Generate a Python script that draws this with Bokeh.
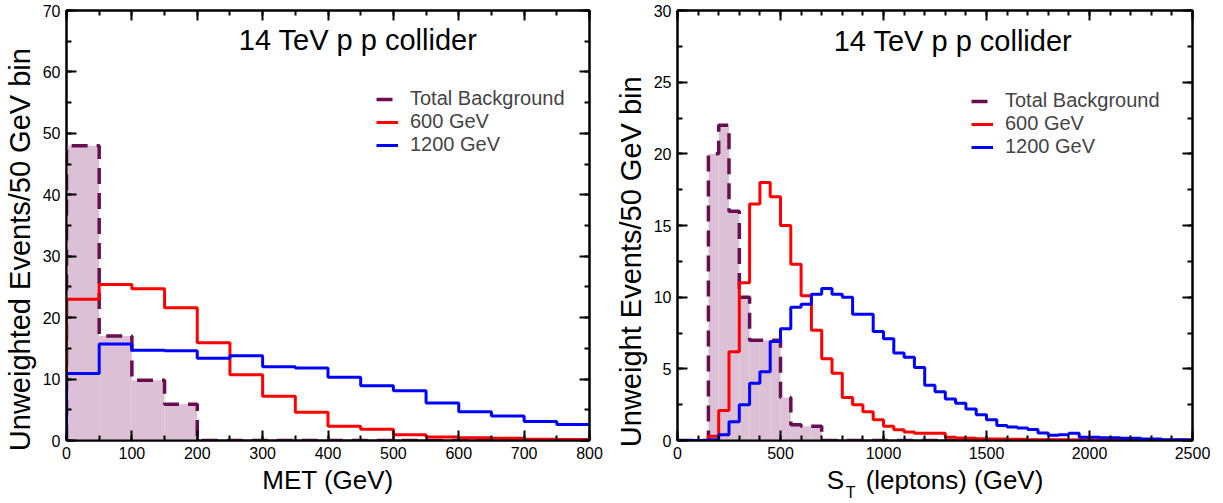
from bokeh.plotting import figure
from bokeh.models import (LinearAxis, SingleIntervalTicker, FixedTicker, Range1d, Legend,
                          LegendItem, Label, CustomJSTickFormatter)
from bokeh.layouts import row
from bokeh.embed import file_html
from bokeh.resources import INLINE

# ---------------- data ----------------
met_edges = list(range(0, 850, 50))
bkg_met = [48, 17, 9.8, 5.9, 0, 0, 0, 0, 0, 0, 0, 0, 0, 0, 0, 0]
sig600_met = [23, 25.4, 24.7, 21.6, 15.9, 10.7, 7.2, 4.6, 2.3, 1.85, 0.95, 0.55,
              0.45, 0.35, 0.2, 0.15]
sig1200_met = [10.9, 15.7, 14.7, 14.6, 13.4, 13.8, 12.0, 11.8, 10.3, 8.9, 8.1, 6.1,
               4.7, 4.0, 3.1, 2.6]

st_edges = list(range(0, 2550, 50))
bkg_st = [0, 0, 0, 20, 22, 16, 10, 7, 7, 7, 3, 1.1, 1, 1] + [0] * 36
sig600_st = [0, 0, 0,
             0.3, 2.1, 6.2, 11, 16.5, 18, 17, 15, 12.3, 10.1,
             7.7, 5.7, 4.7, 3.0, 2.5, 2.0, 1.45, 1.0, 0.75, 0.6,
             0.5, 0.5, 0.5, 0.22, 0.18, 0.15, 0.12, 0.1, 0.1, 0.08,
             0.08, 0.06, 0.05, 0.05, 0.05, 0.04, 0.04, 0.03, 0.03, 0.02,
             0.02, 0.02, 0.02, 0.01, 0.01, 0.01, 0.01]
sig1200_st = [0, 0, 0,
              0.05, 0.4, 1.3, 2.5, 4.0, 4.8, 6.9, 7.8, 9.3, 9.5,
              10.2, 10.6, 10.2, 10.0, 8.8, 8.8, 7.6, 7.1, 6.1, 5.8,
              5.1, 3.85, 3.4, 2.9, 2.6, 2.2, 1.8, 1.45, 1.05, 0.95,
              0.88, 0.77, 0.53, 0.37, 0.4, 0.5, 0.23, 0.22, 0.2, 0.2,
              0.15, 0.15, 0.1, 0.1, 0.05, 0.05, 0.05]

series_labels = ["Total Background", "600 GeV", "1200 GeV"]
title_text = "14 TeV p p collider"
ylabel_left = "Unweighted Events/50 GeV bin"
ylabel_right = "Unweight Events/50 GeV bin"
xlabel_left = "MET (GeV)"
xlabel_right_main = "S"
xlabel_right_sub = "T"
xlabel_right_rest = "(leptons) (GeV)"

# ---------------- style ----------------
FONT = "Liberation Sans"
BKG_LINE = "#680e52"
BKG_FILL = "#dcc0d6"
RED = "#ff0000"
BLUE = "#0000ff"
NBSP = "\u00a0"


def step_xy(edges, vals):
    xs = [edges[0]]
    ys = [0]
    for i, v in enumerate(vals):
        xs += [edges[i], edges[i + 1]]
        ys += [v, v]
    return xs, ys


def hide_labels(ax):
    ax.formatter = CustomJSTickFormatter(code="return ''")
    ax.major_label_text_font_size = "1px"
    ax.major_label_standoff = 0


def style_axis(ax, ticker, show_labels=True):
    ax.ticker = ticker
    ax.axis_line_width = 2
    ax.axis_line_color = "black"
    ax.major_tick_in = 10
    ax.major_tick_out = 0
    ax.minor_tick_in = 5
    ax.minor_tick_out = 0
    ax.major_tick_line_width = 2
    ax.minor_tick_line_width = 2
    ax.major_label_text_font = FONT
    ax.major_label_text_font_size = "16px"
    ax.major_label_text_color = "black"
    ax.major_label_standoff = 6
    ax.axis_label_text_font = FONT
    ax.axis_label_text_font_style = "normal"
    ax.axis_label_text_color = "black"
    if not show_labels:
        hide_labels(ax)


def make_panel(width, height, borders, edges, bkg, s600, s1200, x_end, y_end,
               xmaj, xminor, ymaj, yminor, xlabel, ylabel, y_pad, legend_loc, title_xy):
    bl, br, bt, bb = borders
    p = figure(width=width, height=height, output_backend="svg", toolbar_location=None,
               x_range=Range1d(0, x_end), y_range=Range1d(0, y_end),
               min_border_left=bl, min_border_right=br, min_border_top=bt,
               min_border_bottom=bb)
    p.xgrid.visible = False
    p.ygrid.visible = False
    p.outline_line_color = "black"
    p.outline_line_width = 2
    p.background_fill_color = "white"
    p.border_fill_color = "white"

    style_axis(p.xaxis[0], SingleIntervalTicker(interval=xmaj, num_minor_ticks=xminor))
    style_axis(p.yaxis[0], SingleIntervalTicker(interval=ymaj, num_minor_ticks=yminor))
    p.xaxis[0].axis_label = xlabel
    p.xaxis[0].axis_label_text_font_size = "26px"
    p.xaxis[0].axis_label_standoff = 3
    # trailing no-break spaces move the rotated title towards the bottom
    p.yaxis[0].axis_label = ylabel + NBSP * y_pad
    p.yaxis[0].axis_label_text_font_size = "29px"
    p.yaxis[0].axis_label_standoff = 4

    top = LinearAxis()
    style_axis(top, SingleIntervalTicker(interval=xmaj, num_minor_ticks=xminor), False)
    p.add_layout(top, "above")
    right = LinearAxis()
    style_axis(right, SingleIntervalTicker(interval=ymaj, num_minor_ticks=yminor), False)
    p.add_layout(right, "right")

    # background filled histogram
    p.quad(left=edges[:-1], right=edges[1:], bottom=0, top=bkg,
           fill_color=BKG_FILL, line_color=None)
    bx, by = step_xy(edges, bkg)
    r_bkg = p.line(bx, by, line_color=BKG_LINE, line_width=3.5, line_dash="16 9")
    rx, ry = step_xy(edges, s600)
    r_600 = p.line(rx, ry, line_color=RED, line_width=3)
    ux, uy = step_xy(edges, s1200)
    r_1200 = p.line(ux, uy, line_color=BLUE, line_width=3)

    legend = Legend(items=[LegendItem(label=lab, renderers=[rend]) for lab, rend in
                           zip(series_labels, [r_bkg, r_600, r_1200])],
                    location=legend_loc, orientation="vertical")
    legend.label_text_font = FONT
    legend.label_text_font_size = "20px"
    legend.label_height = 20
    legend.glyph_height = 20
    legend.glyph_width = 22
    legend.label_standoff = 12
    legend.spacing = 0
    legend.padding = 0
    legend.margin = 0
    legend.border_line_color = None
    legend.background_fill_alpha = 0
    p.add_layout(legend, "center")

    p.add_layout(Label(x=title_xy[0], y=title_xy[1], text=title_text,
                       text_font=FONT, text_font_size="29px", text_color="black",
                       text_align="center", text_baseline="alphabetic"))
    return p


p1 = make_panel(611, 503, (62, 22, 10, 60), met_edges, bkg_met, sig600_met, sig1200_met,
                800, 70, 100, 2, 10, 2, xlabel_left, ylabel_left, 6,
                (310, 284), (446, 65.2))

p2 = make_panel(612, 503, (63, 31, 10, 62), st_edges, bkg_st, sig600_st, sig1200_st,
                2500, 30, 500, 5, 5, 2,
                xlabel_right_main + NBSP * 3 + xlabel_right_rest, ylabel_right, 9,
                (294, 282), (1337, 27.9))

# subscript "T" of S_T: an extra, tick-less axis below, whose title sits under the "S"
sub_axis = LinearAxis(ticker=FixedTicker(ticks=[], minor_ticks=[]))
sub_axis.axis_line_color = None
sub_axis.major_tick_in = 0
sub_axis.major_tick_out = 0
sub_axis.minor_tick_in = 0
sub_axis.minor_tick_out = 0
hide_labels(sub_axis)
sub_axis.axis_label = xlabel_right_sub + NBSP * 38
sub_axis.axis_label_text_font = FONT
sub_axis.axis_label_text_font_style = "normal"
sub_axis.axis_label_text_font_size = "16px"
sub_axis.axis_label_text_color = "black"
sub_axis.axis_label_standoff = -14
p2.add_layout(sub_axis, "below")

layout = row(p1, p2)
open("out.html", "w").write(file_html(layout, INLINE))
